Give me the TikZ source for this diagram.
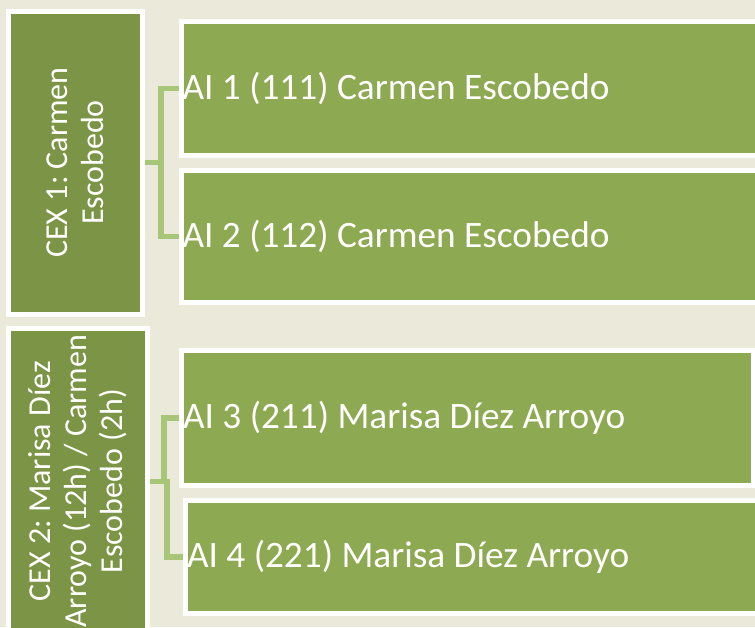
\documentclass[tikz,border=0pt]{standalone}
\usepackage{fontspec}
\setmainfont{Carlito}
\definecolor{bgc}{RGB}{235,233,217}
\definecolor{darkg}{RGB}{124,148,69}
\definecolor{lightg}{RGB}{141,169,81}
\definecolor{connc}{RGB}{167,198,120}
\begin{document}
\frenchspacing
\begin{tikzpicture}[x=1pt,y=-1pt,
  leftbox/.style={draw=white, line width=5pt, fill=darkg, text=white, rotate=90,
    align=flush center, inner sep=0pt, font=\fontsize{32}{36}\selectfont},
  rightbox/.style={draw=white, line width=5pt, fill=lightg, text=white,
    inner xsep=1.5pt, inner ysep=0pt, align=flush left, font=\fontsize{37.3}{40}\selectfont},
  conn/.style={draw=connc, line width=5.5pt}]
\clip (0,0) rectangle (755,627);
\fill[bgc] (0,0) rectangle (755,627);
% left boxes (rotated: minimum width is vertical extent)
\node[leftbox, minimum width=303pt, minimum height=134.5pt] (cex1) at (75.25,162.5) {CEX 1: Carmen\\Escobedo};
\node[leftbox, minimum width=305.5pt, minimum height=139pt] (cex2) at (78,481.25) {CEX 2: Marisa Díez\\Arroyo (12h) / Carmen\\Escobedo (2h)};
% right boxes
\node[rightbox, minimum width=579pt, minimum height=134pt, text width=576pt] (ai1) at (470.5,88.5) {AI 1 (111) Carmen Escobedo};
\node[rightbox, minimum width=579pt, minimum height=132pt, text width=576pt] (ai2) at (470.5,236.5) {AI 2 (112) Carmen Escobedo};
\node[rightbox, minimum width=571.5pt, minimum height=134.5pt, text width=568.5pt] (ai3) at (467.25,417.75) {AI 3 (211) Marisa Díez Arroyo};
\node[rightbox, minimum width=579.5pt, minimum height=113.5pt, text width=576.5pt] (ai4) at (475.25,556.75) {AI 4 (221) Marisa Díez Arroyo};
% connectors (south of rotated node = right side)
\draw[conn] (cex1.south) -- ++(16,0) |- (ai1.west);
\draw[conn] (cex1.south) -- ++(16,0) |- (ai2.west);
\draw[conn] (cex2.south) -- ++(14,0) |- (ai3.west);
\draw[conn] (cex2.south) -- ++(17,0) |- (ai4.west);
\end{tikzpicture}
\end{document}
